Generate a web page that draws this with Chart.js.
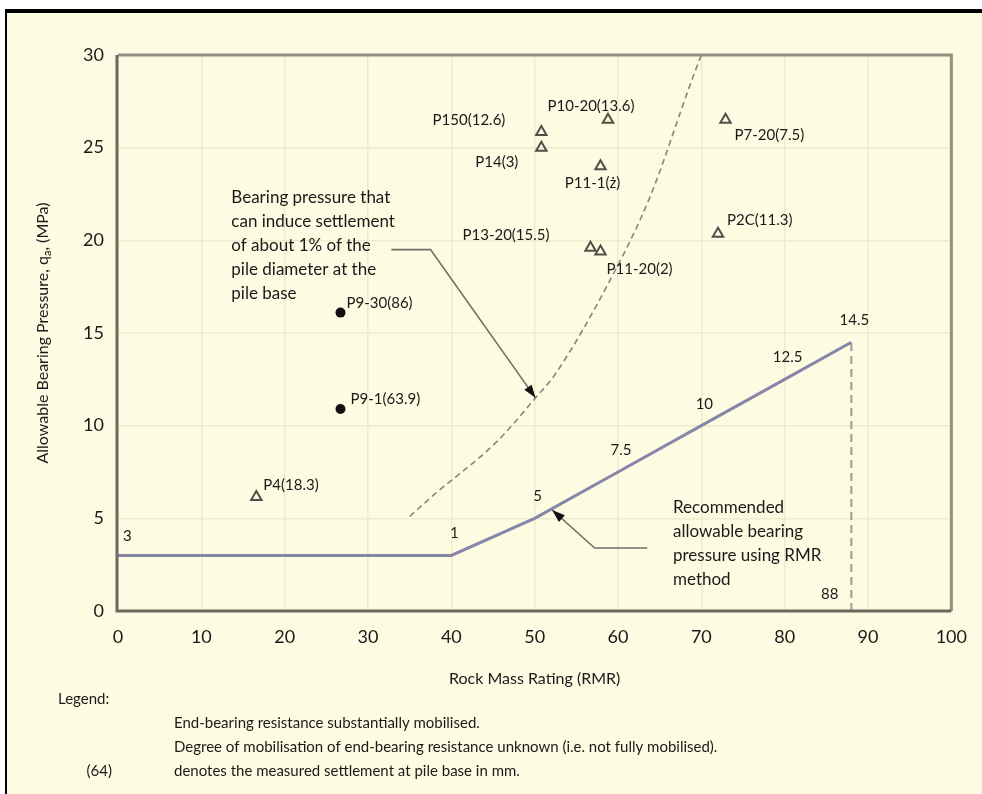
<!DOCTYPE html>
<html><head><meta charset="utf-8">
<script src="https://cdn.jsdelivr.net/npm/chart.js@4.4.1/dist/chart.umd.min.js"></script>
<style>html,body{margin:0;padding:0;background:#fff;}#wrap{width:982px;height:794px;position:relative}</style>
</head><body><div id="wrap"><canvas id="c" width="982" height="794"></canvas></div>
<script>
// ---- data ----
const recX=[0,40,50,60,70,80,88];
const recY=[3,3,5,7.5,10,12.5,14.5];
const recLabels=['3','1','5','7.5','10','12.5','14.5'];
const settleX=[35,37.6,45.6,50.1,52.5,59.1,63.8,68.9,70];
const settleY=[5.1,6.15,9.2,11.5,12.8,17.9,22.3,28.7,30];
const limitX=[88,88];
const limitY=[0,14.5];
const limitLabel='88';
const triNames=['P150(12.6)','P14(3)','P10-20(13.6)','P11-1(ż)','P13-20(15.5)','P11-20(2)','P7-20(7.5)','P2C(11.3)','P4(18.3)'];
const triX=[50.8,50.8,58.8,57.9,56.7,57.9,72.9,72.0,16.6];
const triY=[25.85,25.0,26.5,24.0,19.6,19.4,26.5,20.35,6.15];
const dotNames=['P9-30(86)','P9-1(63.9)'];
const dotX=[26.7,26.7];
const dotY=[16.1,10.9];
const noteA=['Bearing pressure that','can induce settlement','of about 1% of the','pile diameter at the','pile base'];
const noteB=['Recommended','allowable bearing','pressure using RMR','method'];
const xTitle='Rock Mass Rating (RMR)';
const legendTitle='Legend:';
const legendLines=['End-bearing resistance substantially mobilised.','Degree of mobilisation of end-bearing resistance unknown (i.e. not fully mobilised).','denotes the measured settlement at pile base in mm.'];
const legendKey='(64)';

// ---- layout (not data) ----
const triPlace=[['right',-36,-12],['right',-23,14],['center',-17,-14],['center',-8,17],['right',-41,-13],['left',6,18],['left',9,15],['left',9,-14],['left',7,-12]];
const dotPlace=[['left',6,-9],['left',10,-10]];
const leaderA=[[32.8,19.5],[37.5,19.5],[50.1,11.5]];
const leaderB=[[63.5,3.4],[57.2,3.4],[52.1,5.45]];
const noteAPos=[13.6,22.3];
const noteBPos=[66.6,5.6];

const FONT='Lato, "Open Sans", sans-serif';
const pts=(xs,ys)=>xs.map((x,i)=>({x:x,y:ys[i]}));

function arrowPath(ctx,chart,path){
  const xs=chart.scales.x, ys=chart.scales.y;
  const p=path.map(q=>[xs.getPixelForValue(q[0]),ys.getPixelForValue(q[1])]);
  ctx.save();
  ctx.strokeStyle='#6f6f66';ctx.lineWidth=1.6;
  ctx.beginPath();ctx.moveTo(p[0][0],p[0][1]);
  for(let i=1;i<p.length;i++)ctx.lineTo(p[i][0],p[i][1]);
  ctx.stroke();
  const a=p[p.length-2], b=p[p.length-1];
  const ang=Math.atan2(b[1]-a[1],b[0]-a[0]);
  const L=13,W=4.5;
  ctx.fillStyle='#111';
  ctx.beginPath();
  ctx.moveTo(b[0],b[1]);
  ctx.lineTo(b[0]-L*Math.cos(ang)+W*Math.sin(ang),b[1]-L*Math.sin(ang)-W*Math.cos(ang));
  ctx.lineTo(b[0]-L*Math.cos(ang)-W*Math.sin(ang),b[1]-L*Math.sin(ang)+W*Math.cos(ang));
  ctx.closePath();ctx.fill();
  ctx.restore();
}

const decor={
  id:'decor',
  beforeDraw(chart){
    const ctx=chart.ctx;
    ctx.save();
    ctx.fillStyle='#ffffff';ctx.fillRect(0,0,982,794);
    ctx.fillStyle='#fdfbe1';ctx.fillRect(6,10,976,784);
    ctx.fillStyle='#000';ctx.fillRect(5,9,977,4);ctx.fillRect(5,9,2,785);
    ctx.restore();
  },
  afterDatasetsDraw(chart){
    const ctx=chart.ctx, xs=chart.scales.x, ys=chart.scales.y, ca=chart.chartArea;
    ctx.save();
    // plot frame
    ctx.strokeStyle='#929284';ctx.lineWidth=3;
    ctx.beginPath();ctx.moveTo(ca.left,ca.top);ctx.lineTo(ca.right,ca.top);ctx.lineTo(ca.right,ca.bottom);ctx.stroke();
    ctx.strokeStyle='#6a6a5e';
    ctx.beginPath();ctx.moveTo(ca.left-1,ca.top);ctx.lineTo(ca.left-1,ca.bottom);ctx.lineTo(ca.right,ca.bottom);ctx.stroke();
    ctx.fillStyle='#1a1a1a';
    // line value labels
    ctx.font='15px '+FONT;ctx.textBaseline='middle';
    recLabels.forEach((t,i)=>{
      const px=xs.getPixelForValue(recX[i]), py=ys.getPixelForValue(recY[i]);
      if(i===0){ctx.textAlign='left';ctx.fillText(t,px+5,py-19);}
      else{ctx.textAlign='center';ctx.fillText(t,px+3,py-22);}
    });
    ctx.textAlign='right';
    ctx.fillText(limitLabel,xs.getPixelForValue(limitX[0])-13,ys.getPixelForValue(limitY[0])-17);
    // point labels
    ctx.font='15px '+FONT;
    triNames.forEach((n,i)=>{
      const pl=triPlace[i];ctx.textAlign=pl[0];
      ctx.fillText(n,xs.getPixelForValue(triX[i])+pl[1],ys.getPixelForValue(triY[i])+pl[2]);
    });
    dotNames.forEach((n,i)=>{
      const pl=dotPlace[i];ctx.textAlign=pl[0];
      ctx.fillText(n,xs.getPixelForValue(dotX[i])+pl[1],ys.getPixelForValue(dotY[i])+pl[2]);
    });
    // notes
    ctx.font='17px '+FONT;ctx.textAlign='left';
    noteA.forEach((t,i)=>ctx.fillText(t,xs.getPixelForValue(noteAPos[0]),ys.getPixelForValue(noteAPos[1])+i*24));
    noteB.forEach((t,i)=>ctx.fillText(t,xs.getPixelForValue(noteBPos[0]),ys.getPixelForValue(noteBPos[1])+i*24));
    ctx.restore();
    arrowPath(ctx,chart,leaderA);
    arrowPath(ctx,chart,leaderB);
    // axis titles
    ctx.save();
    ctx.fillStyle='#1a1a1a';ctx.font='16px '+FONT;ctx.textBaseline='middle';ctx.textAlign='center';
    ctx.fillText(xTitle,(ca.left+ca.right)/2,679);
    ctx.translate(43,(ca.top+ca.bottom)/2);ctx.rotate(-Math.PI/2);
    const s1='Allowable Bearing Pressure, q', s2='a', s3=', (MPa)';
    ctx.font='16px '+FONT;const w1=ctx.measureText(s1).width, w3=ctx.measureText(s3).width;
    ctx.font='11px '+FONT;const w2=ctx.measureText(s2).width;
    let x0=-(w1+w2+w3)/2;ctx.textAlign='left';
    ctx.font='16px '+FONT;ctx.fillText(s1,x0,0);
    ctx.font='11px '+FONT;ctx.fillText(s2,x0+w1,4);
    ctx.font='16px '+FONT;ctx.fillText(s3,x0+w1+w2,0);
    ctx.restore();
    // legend
    ctx.save();
    ctx.fillStyle='#1a1a1a';ctx.font='15px '+FONT;ctx.textBaseline='middle';ctx.textAlign='left';
    ctx.fillText(legendTitle,58,699);
    legendLines.forEach((t,i)=>ctx.fillText(t,174,723+i*24));
    ctx.textAlign='right';ctx.fillText(legendKey,112,771);
    ctx.restore();
  }
};

new Chart(document.getElementById('c'),{
  type:'scatter',
  data:{datasets:[
    {label:'Recommended',data:pts(recX,recY),showLine:true,borderColor:'#8586a8',borderWidth:3,pointRadius:0,tension:0,order:3},
    {label:'1% settlement',data:pts(settleX,settleY),showLine:true,borderColor:'#86867c',borderWidth:1.6,borderDash:[6,4],pointRadius:0,cubicInterpolationMode:'monotone',order:4},
    {label:'RMR 88',data:pts(limitX,limitY),showLine:true,borderColor:'#a3a398',borderWidth:2.2,borderDash:[8,5],pointRadius:0,order:5},
    {label:'Not fully mobilised',data:pts(triX,triY),pointStyle:'triangle',pointRadius:6,pointBorderWidth:2,pointBorderColor:'#505048',pointBackgroundColor:'rgba(0,0,0,0)',order:1},
    {label:'Mobilised',data:pts(dotX,dotY),pointStyle:'circle',pointRadius:5,pointBorderWidth:0,pointBackgroundColor:'#111',order:2}
  ]},
  options:{
    responsive:false,animation:false,devicePixelRatio:1,
    layout:{padding:{left:0,right:26,top:55,bottom:0}},
    plugins:{legend:{display:false},tooltip:{enabled:false}},
    scales:{
      x:{type:'linear',min:0,max:100,
        ticks:{stepSize:10,color:'#1a1a1a',font:{family:FONT,size:18},padding:15,maxRotation:0},
        grid:{color:'#eeebcf',lineWidth:1.5,drawTicks:false},border:{display:false},
        afterFit(s){s.height=183;}},
      y:{type:'linear',min:0,max:30,
        ticks:{stepSize:5,color:'#1a1a1a',font:{family:FONT,size:18},padding:14},
        grid:{color:'#eeebcf',lineWidth:1.5,drawTicks:false},border:{display:false},
        afterFit(s){s.width=118;}}
    }
  },
  plugins:[decor]
});
</script></body></html>
